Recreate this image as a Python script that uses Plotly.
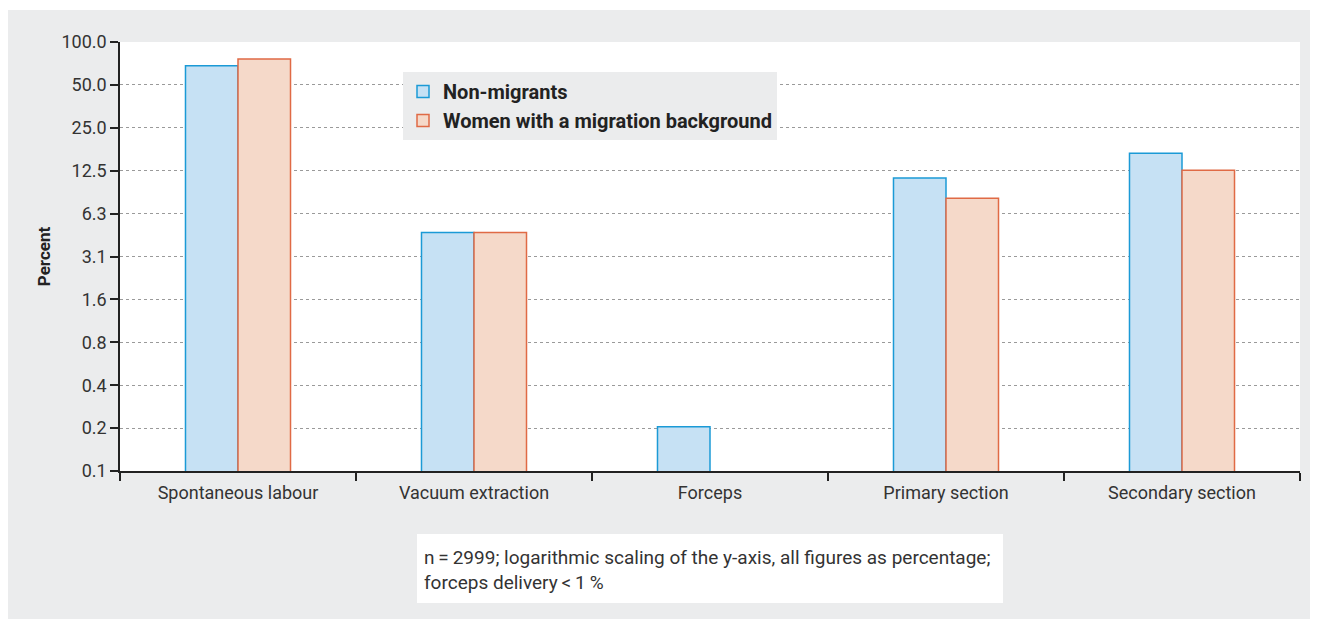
import plotly.graph_objects as go

categories = ["Spontaneous labour", "Vacuum extraction", "Forceps", "Primary section", "Secondary section"]
non_migrants = [68.0, 4.6, 0.2, 11.1, 16.6]
migrants = [76.0, 4.6, None, 8.0, 12.6]
tick_vals = [100 / 2 ** k for k in range(11)]
tick_text = ["100.0", "50.0", "25.0", "12.5", "6.3", "3.1", "1.6", "0.8", "0.4", "0.2", "0.1"]

OFF = 8  # page body margin
W, H = 1319 - OFF, 619 - OFF
L, R, T, B = 120 - OFF, 19, 42 - OFF, 148
PW, PH = W - L - R, H - T - B

def px(x):
    return (x - OFF - L) / PW

def py(y):
    return (H - B - (y - OFF)) / PH

FONT = "Roboto, sans-serif"
GREY = "#ebeced"

fig = go.Figure()
fig.add_trace(go.Bar(
    x=categories, y=non_migrants, name="Non-migrants",
    marker=dict(color="#c6e1f4", line=dict(color="#1b9ad6", width=1.5)),
))
fig.add_trace(go.Bar(
    x=categories, y=migrants, name="Women with a migration background",
    marker=dict(color="#f5d9c9", line=dict(color="#e06a45", width=1.5)),
))

shapes = [
    dict(type="rect", xref="paper", yref="paper", x0=px(1310), x1=px(1319 + 2), y0=py(619 + 2), y1=py(0),
         fillcolor="white", line=dict(width=0), layer="above"),
    dict(type="rect", xref="paper", yref="paper", x0=px(0), x1=px(1321), y0=py(10), y1=py(0),
         fillcolor="white", line=dict(width=0), layer="above"),
    dict(type="rect", xref="paper", yref="paper", x0=px(417), x1=px(1003), y0=py(603), y1=py(534),
         fillcolor="white", line=dict(width=0), layer="above"),
]

annotations = [
    dict(xref="paper", yref="paper", x=px(422), y=py(570), xanchor="left", yanchor="middle",
         align="left", showarrow=False,
         text="n\u2009=\u20092999; logarithmic scaling of the y-axis, all figures as percentage;<br>forceps delivery\u2009<\u20091\u2009%",
         font=dict(family=FONT, size=19, color="#333333")),
]

fig.update_layout(
    width=W, height=H,
    margin=dict(l=L, r=R, t=T, b=B),
    paper_bgcolor=GREY, plot_bgcolor="white",
    barmode="group", bargap=0.555, bargroupgap=0,
    font=dict(family=FONT, size=17, color="#333333"),
    showlegend=True,
    legend=dict(
        x=px(403), y=py(72), xanchor="left", yanchor="top",
        bgcolor=GREY, font=dict(family=FONT, size=20, color="#222222", weight="bold"),
        itemwidth=30, tracegroupgap=0,
    ),
    shapes=shapes,
    annotations=annotations,
    xaxis=dict(
        type="category", range=[-0.5, 4.5], showline=True, linecolor="#222222", linewidth=1.5,
        ticks="outside", tickson="boundaries", ticklen=8, tickcolor="#222222", tickwidth=1.5,
        showgrid=False, tickfont=dict(family=FONT, size=18, color="#333333"),
        ticklabelstandoff=5,
    ),
    yaxis=dict(
        type="log", range=[2.0 - 10 * 0.30103, 2.0], tickvals=tick_vals, ticktext=tick_text,
        showline=True, linecolor="#222222", linewidth=1.5,
        ticks="outside", ticklen=8, tickcolor="#222222", tickwidth=1.5,
        showgrid=True, gridcolor="#9a9a9a", griddash="dot", gridwidth=1,
        tickfont=dict(family=FONT, size=18, color="#333333"),
        title=dict(text="<b>Percent</b>", font=dict(family=FONT, size=17, color="#222222"), standoff=6),
        zeroline=False,
    ),
)

fig.write_html("out.html")
